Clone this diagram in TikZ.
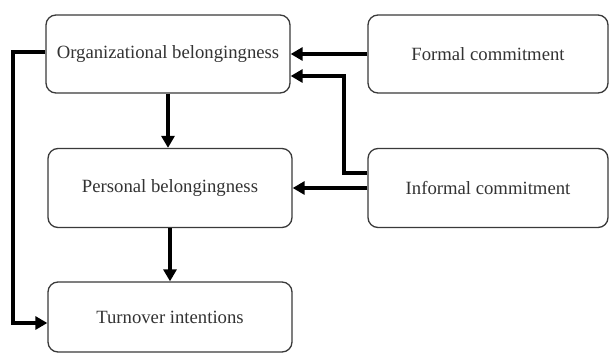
\documentclass[tikz,border=0pt]{standalone}
\usepackage{fontspec}
\setmainfont{Liberation Serif}
\usetikzlibrary{arrows.meta}
\definecolor{boxline}{HTML}{3A3A3A}
\definecolor{txt}{HTML}{333333}
\begin{document}
\begin{tikzpicture}[x=1pt,y=1pt,
  box/.style={draw=boxline,line width=1.3pt,rounded corners=10pt,fill=white,
    minimum width=244pt,inner sep=0pt,text=txt,font=\fontsize{18.7}{21}\selectfont},
  conn/.style={line width=3.5pt,-{Triangle[length=12pt,width=13pt]}}]
\useasboundingbox (0,0) rectangle (609,-356);
\node[box,minimum height=78pt] (org) at (168,-54) {Organizational belongingness};
\node[box,minimum height=79pt] (pers) at (170,-188) {Personal belongingness};
\node[box,minimum height=70pt] (turn) at (170,-317) {Turnover intentions};
\node[box,minimum width=240pt,minimum height=78pt] (formal) at (488,-54) {Formal commitment};
\node[box,minimum width=240pt,minimum height=79pt] (inf) at (488,-188) {Informal commitment};
\coordinate (bendA) at (344,-173);
\coordinate (bendB) at (344,-76);
\coordinate (leftA) at (13,-52);
\coordinate (leftB) at (13,-323);
\draw[conn] (org.south) -- (org.south |- pers.north);
\draw[conn] (pers.south) -- (pers.south |- turn.north);
\draw[conn] (formal.west) -- (org.east);
\draw[conn] (inf.west) -- (pers.east);
\draw[conn] (inf.west |- bendA) -- (bendA) -- (bendB) -- (org.east |- bendB);
\draw[conn] (org.west |- leftA) -- (leftA) -- (leftB) -- (turn.west |- leftB);
\end{tikzpicture}
\end{document}
